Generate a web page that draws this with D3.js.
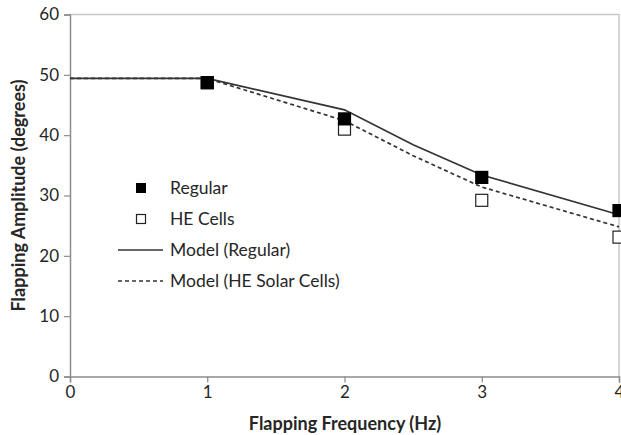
<!DOCTYPE html>
<html>
<head>
<meta charset="utf-8">
<script src="https://cdn.jsdelivr.net/npm/d3@7"></script>
<style>
  body { margin: 0; background: #fff; }
  text { font-family: Lato, "Open Sans", sans-serif; fill: #262626; }
</style>
</head>
<body>
<svg width="621" height="435"></svg>
<script>
// measured points
const freq = [1, 2, 3, 4];
const regular = [48.7, 42.7, 33.0, 27.5];
const heCells = [48.7, 41.0, 29.2, 23.1];

// model curves
const modelX = [0, 1, 2, 2.5, 3, 4];
const modelRegular = [49.4, 49.4, 44.2, 38.4, 33.4, 26.8];
const modelHE = [49.4, 49.4, 42.4, 36.6, 31.4, 24.8];

const xTicks = [0, 1, 2, 3, 4];
const yTicks = [0, 10, 20, 30, 40, 50, 60];

const svg = d3.select('svg');
const x = d3.scaleLinear().domain([0, 4]).range([70, 619]);
const y = d3.scaleLinear().domain([0, 60]).range([376.5, 14.5]);

// frame (top + right light border)
svg.append('path')
  .attr('d', `M${x(0)},${y(60)}H${x(4)}V${y(0)}`)
  .attr('fill', 'none')
  .attr('stroke', '#c8c8c8')
  .attr('stroke-width', 1.5);

// axes
const yAxis = svg.append('g')
  .attr('transform', `translate(${x(0)},0)`)
  .call(d3.axisLeft(y).tickValues(yTicks).tickFormat(d3.format('d')).tickSize(6).tickPadding(5));
const xAxis = svg.append('g')
  .attr('transform', `translate(0,${y(0)})`)
  .call(d3.axisBottom(x).tickValues(xTicks).tickFormat(d3.format('d')).tickSize(6).tickPadding(3));

[yAxis, xAxis].forEach(function (g) {
  g.select('.domain').attr('stroke', '#8c8c8c').attr('stroke-width', 1.5);
  g.selectAll('.tick line').attr('stroke', '#8c8c8c').attr('stroke-width', 1.2);
  g.selectAll('.tick text')
    .attr('font-size', '17px')
    .attr('font-family', 'Lato, "Open Sans", sans-serif')
    .attr('fill', '#262626');
});

// model lines
const line = d3.line()
  .x((d, i) => x(modelX[i]))
  .y((d) => y(d));

svg.append('path')
  .datum(modelRegular)
  .attr('d', line)
  .attr('fill', 'none')
  .attr('stroke', '#333')
  .attr('stroke-width', 1.7);

svg.append('path')
  .datum(modelHE)
  .attr('d', line)
  .attr('fill', 'none')
  .attr('stroke', '#333')
  .attr('stroke-width', 1.7)
  .attr('stroke-dasharray', '4,3');

// markers
const sz = 12;
svg.append('g')
  .selectAll('rect')
  .data(heCells)
  .enter()
  .append('rect')
  .attr('x', (d, i) => x(freq[i]) - sz / 2)
  .attr('y', (d) => y(d) - sz / 2)
  .attr('width', sz)
  .attr('height', sz)
  .attr('fill', '#fff')
  .attr('stroke', '#222')
  .attr('stroke-width', 1.2);

svg.append('g')
  .selectAll('rect')
  .data(regular)
  .enter()
  .append('rect')
  .attr('x', (d, i) => x(freq[i]) - sz / 2 - 0.6)
  .attr('y', (d) => y(d) - sz / 2 - 0.6)
  .attr('width', sz + 1.2)
  .attr('height', sz + 1.2)
  .attr('fill', '#000');

// legend
const legend = svg.append('g');
const items = [
  { label: 'Regular', kind: 'filled' },
  { label: 'HE Cells', kind: 'open' },
  { label: 'Model (Regular)', kind: 'solid' },
  { label: 'Model (HE Solar Cells)', kind: 'dash' },
];
items.forEach(function (it, i) {
  const cy = 188 + i * 31;
  if (it.kind === 'filled') {
    legend.append('rect').attr('x', 136).attr('y', cy - 5).attr('width', 10).attr('height', 10).attr('fill', '#000');
  } else if (it.kind === 'open') {
    legend.append('rect').attr('x', 136.5).attr('y', cy - 4.5).attr('width', 9).attr('height', 9)
      .attr('fill', '#fff').attr('stroke', '#222').attr('stroke-width', 1.2);
  } else {
    legend.append('line').attr('x1', 118).attr('x2', 163).attr('y1', cy).attr('y2', cy)
      .attr('stroke', '#333').attr('stroke-width', 1.4)
      .attr('stroke-dasharray', it.kind === 'dash' ? '4,3' : null);
  }
  legend.append('text')
    .attr('x', 170)
    .attr('y', cy + 6)
    .attr('font-size', '17.5px')
    .text(it.label);
});

// axis titles
svg.append('text')
  .attr('x', 345)
  .attr('y', 430)
  .attr('text-anchor', 'middle')
  .attr('font-size', '18px')
  .attr('font-weight', 'bold')
  .text('Flapping Frequency (Hz)');

svg.append('text')
  .attr('transform', `translate(25,${(y(0) + y(60)) / 2}) rotate(-90)`)
  .attr('text-anchor', 'middle')
  .attr('font-size', '18px')
  .attr('font-weight', 'bold')
  .text('Flapping Amplitude (degrees)');
</script>
</body>
</html>
